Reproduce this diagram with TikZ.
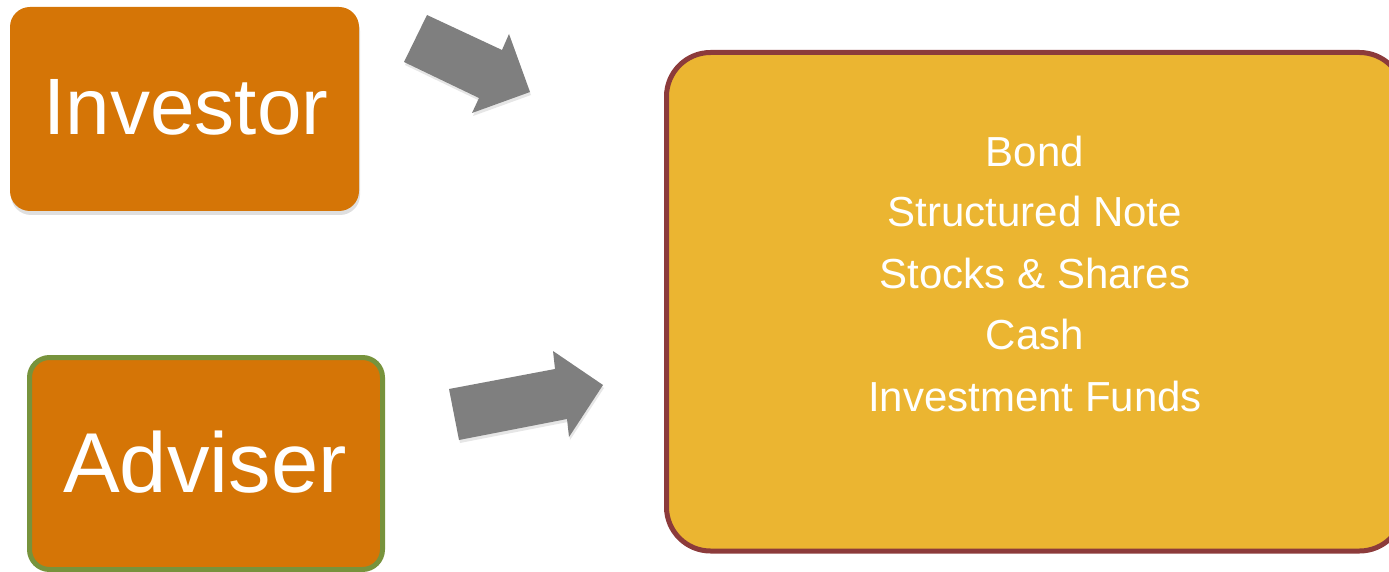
\documentclass[tikz,border=0pt]{standalone}
\usepackage{fontspec}
\setmainfont{Liberation Sans}
\usetikzlibrary{shadows}
\definecolor{boxorange}{HTML}{D57506}
\definecolor{boxyellow}{HTML}{EBB531}
\definecolor{boxred}{HTML}{8C3B3B}
\definecolor{boxgreen}{HTML}{77933C}
\definecolor{arrowgray}{HTML}{7F7F7F}
\tikzset{
  rolebox/.style={rectangle, rounded corners=20pt, fill=boxorange, text=white,
    inner sep=0pt},
  blockarrow/.style={fill=arrowgray, draw=none,
    drop shadow={opacity=0.2, shadow xshift=1pt, shadow yshift=-3pt}},
  listbox/.style={rectangle, rounded corners=44pt, fill=boxyellow, draw=boxred,
    line width=5pt, inner sep=0pt},
  listtext/.style={text=white, font=\fontsize{42}{42}\selectfont, anchor=base},
}
\begin{document}
\begin{tikzpicture}[x=1pt,y=-1pt]
\useasboundingbox (0,0) rectangle (1389,572);
% Investor
\node[rolebox, minimum width=349pt, minimum height=204pt,
  drop shadow={opacity=0.25, shadow xshift=1pt, shadow yshift=-4pt}]
  (investor) at (184.5,109) {};
\node[text=white, font=\fontsize{80}{80}\selectfont, anchor=base] (investorlabel) at (186,135) {Investor};
% Adviser
\node[rolebox, draw=boxgreen, line width=5pt, minimum width=353pt, minimum height=212pt]
  (adviser) at (206,463.5) {};
\node[text=white, font=\fontsize{85}{85}\selectfont, anchor=base] (adviserlabel) at (205,492) {Adviser};
% Big product box
\node[listbox, minimum width=737pt, minimum height=498.5pt] (products) at (1035,301.75) {};
\node[listtext] (l1) at (1035,167) {Bond};
\node[listtext] (l2) at (1035,226.5) {Structured Note};
\node[listtext] (l3) at (1035,288) {Stocks \& Shares};
\node[listtext] (l4) at (1035,349.5) {Cash};
\node[listtext] (l5) at (1035,411) {Investment Funds};
% Block arrows
\fill[blockarrow] (427,15) -- (502,50) -- (509,34) -- (530,92) -- (472,113) -- (479,98) -- (404,62) -- cycle;
\fill[blockarrow] (449,389) -- (555,369) -- (553,351) -- (603,385) -- (569,437) -- (567,419) -- (459,440) -- cycle;
\end{tikzpicture}
\end{document}
